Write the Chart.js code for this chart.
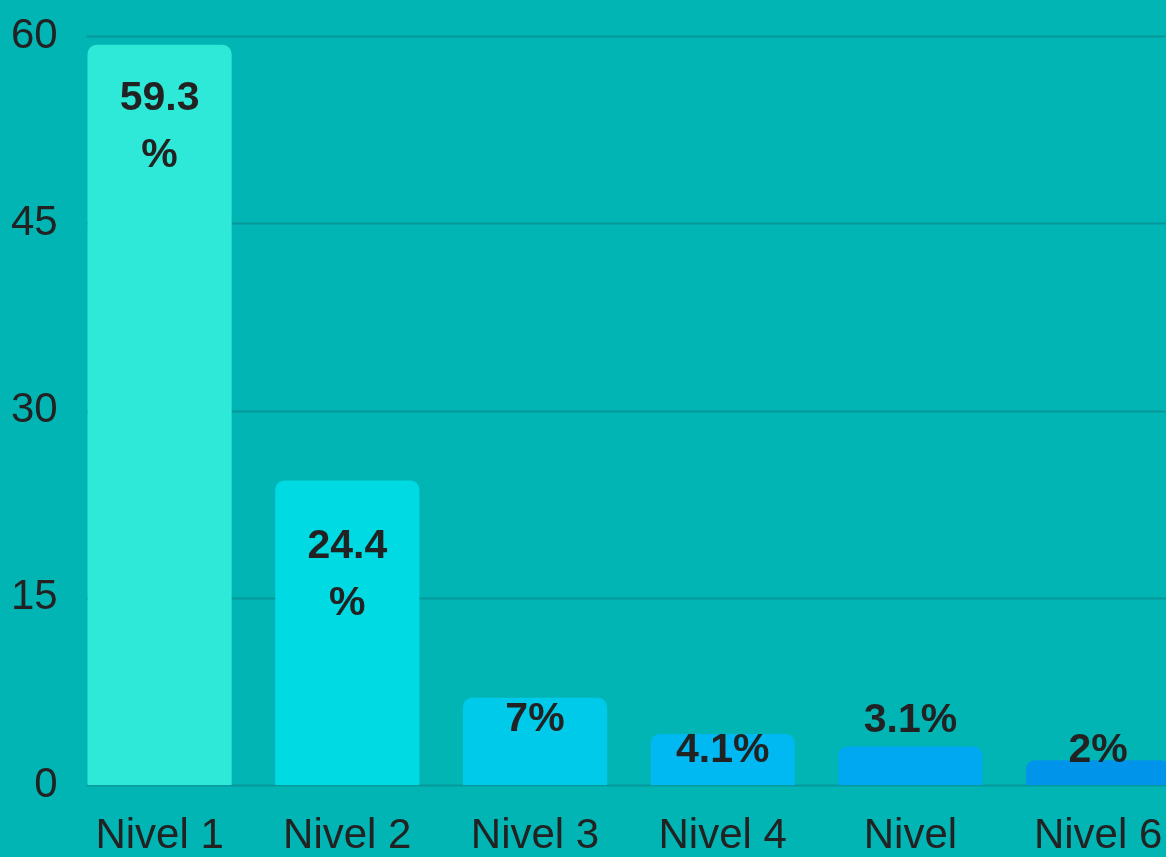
<!DOCTYPE html>
<html>
<head>
<meta charset="utf-8">
<script src="https://cdn.jsdelivr.net/npm/chart.js@4"></script>
<style>
    html, body { margin: 0; padding: 0; background: #02b5b5; overflow: hidden; }
    #wrap { width: 1192px; height: 938px; }
</style>
</head>
<body>
<div id="wrap"><canvas id="levelChart" width="1192" height="938"></canvas></div>
<script>
const levels = ['Nivel 1', 'Nivel 2', 'Nivel 3', 'Nivel 4', ['Nivel', '5'], 'Nivel 6'];
const shares = [59.3, 24.4, 7, 4.1, 3.1, 2];
const yTicks = [0, 15, 30, 45, 60];
const barColors = ['#2ee8d8', '#00dae2', '#00caea', '#00b8f2', '#00a8f2', '#0095ea'];

// label placement relative to the bar top (first line centre)
const labelShift = [54, 66, 22, 17, -26, -10];

const gridLines = {
    id: 'gridLines',
    beforeDatasetsDraw(chart) {
        const ctx = chart.ctx;
        const y = chart.scales.y;
        const first = chart.getDatasetMeta(0).data[0];
        const left = first.x - first.width / 2 - 1;
        ctx.save();
        ctx.strokeStyle = '#06979a';
        ctx.lineWidth = 2;
        yTicks.forEach(t => {
            const py = Math.round(y.getPixelForValue(t)) + 0.5;
            ctx.beginPath();
            ctx.moveTo(left, py);
            ctx.lineTo(chart.chartArea.right, py);
            ctx.stroke();
        });
        ctx.restore();
    }
};

const barLabels = {
    id: 'barLabels',
    afterDatasetsDraw(chart) {
        const ctx = chart.ctx;
        ctx.save();
        ctx.fillStyle = '#222222';
        ctx.font = 'bold 41px "Liberation Sans", Arial, sans-serif';
        ctx.textAlign = 'center';
        ctx.textBaseline = 'middle';
        chart.getDatasetMeta(0).data.forEach((bar, i) => {
            const v = shares[i];
            const lines = v >= 10 ? [String(v), '%'] : [v + '%'];
            lines.forEach((line, k) => {
                ctx.fillText(line, bar.x, bar.y + labelShift[i] + k * 57);
            });
        });
        ctx.restore();
    }
};

const ctx = document.getElementById('levelChart').getContext('2d');
new Chart(ctx, {
    type: 'bar',
    data: {
        labels: levels,
        datasets: [{
            data: shares,
            backgroundColor: barColors,
            borderRadius: { topLeft: 9, topRight: 9 },
            borderSkipped: 'start',
            categoryPercentage: 1,
            barPercentage: 0.768
        }]
    },
    options: {
        responsive: false,
        animation: false,
        layout: { padding: { left: 3, top: 36, right: 0, bottom: 0 } },
        plugins: {
            legend: { display: false },
            tooltip: { enabled: false }
        },
        scales: {
            x: {
                grid: { display: false, drawTicks: false },
                border: { display: false },
                ticks: {
                    color: '#222222',
                    padding: 26,
                    maxRotation: 0,
                    autoSkip: false,
                    font: { family: '"Liberation Sans", Arial, sans-serif', size: 42 }
                }
            },
            y: {
                min: 0,
                max: 60,
                grid: { display: false, drawTicks: false },
                border: { display: false },
                afterBuildTicks(scale) {
                    scale.ticks = yTicks.map(v => ({ value: v }));
                },
                ticks: {
                    color: '#222222',
                    padding: 8,
                    font: { family: '"Liberation Sans", Arial, sans-serif', size: 42 }
                }
            }
        }
    },
    plugins: [gridLines, barLabels]
});
</script>
</body>
</html>
